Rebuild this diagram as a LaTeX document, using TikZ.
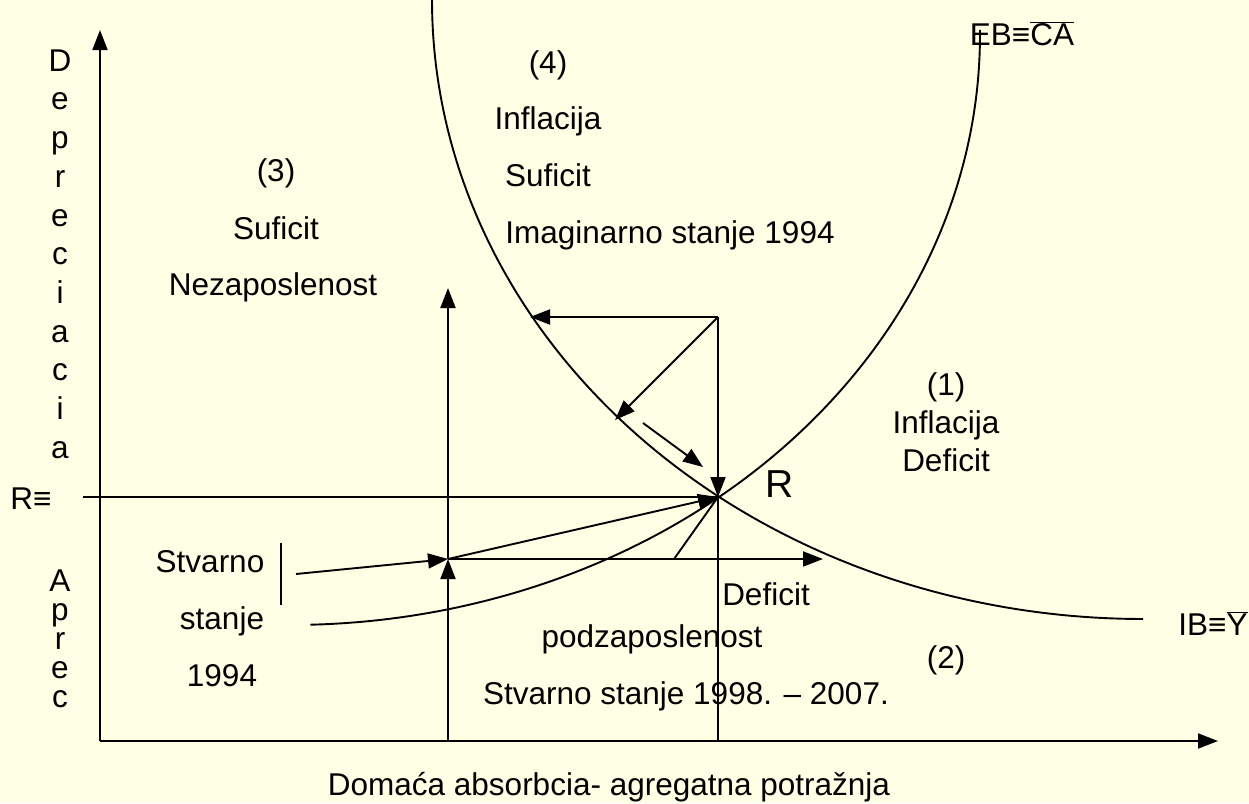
\documentclass[tikz,border=0pt]{standalone}
\usepackage{fontspec}
\setmainfont{Liberation Sans}
\usetikzlibrary{arrows.meta}
\definecolor{bg}{HTML}{FFFFE6}
\newcommand\ovl[1]{\ensuremath{\overline{\hbox{#1}}}}
\begin{document}
\begin{tikzpicture}[x=1pt,y=-1pt,
  line/.style={line width=1.9pt, line join=miter},
  arr/.style={line, -{Triangle[length=20pt,width=15pt]}},
  lbl/.style={font=\fontsize{31.5}{36}\selectfont, text height=22.5pt, text depth=0pt, inner sep=0pt},
  bigl/.style={font=\fontsize{39}{46}\selectfont, text height=27.9pt, text depth=0pt, inner sep=0pt}]
\fill[bg] (0,0) rectangle (1249,803);
\useasboundingbox (0,0) rectangle (1249,803);
% coordinates
\coordinate (O) at (100,741);
\coordinate (Yt) at (100,30);
\coordinate (Xt) at (1218,741);
\coordinate (R) at (718,497);
\coordinate (Rl) at (83,497);
\coordinate (Rt) at (718,317);
\coordinate (Rb) at (718,741);
\coordinate (Bt) at (530,317);
\coordinate (Dt) at (615,420);
\coordinate (s1) at (643,423);
\coordinate (s2) at (703,467);
\coordinate (P) at (448,559);
\coordinate (Pb) at (448,741);
\coordinate (Pt) at (448,288);
\coordinate (St) at (296,574);
\coordinate (H) at (823,559);
\coordinate (Q) at (674,559);
\coordinate (bar1) at (281,543);
\coordinate (bar2) at (281,605);
% curves
\draw[line] plot[domain=180:90, samples=90, smooth] ({1143+711*cos(\x)}, {619*sin(\x)});
\draw[line] plot[domain=88.3:-0.5, samples=90, smooth] ({290+690*cos(\x)}, {35+590*sin(\x)});
% axes
\draw[arr] (O) -- (Yt);
\draw[arr] (O) -- (Xt);
% lines
\draw[line] (Rl) -- (R);
\draw[line] (R) -- (Rb);
\draw[arr] (Rt) -- (Bt);
\draw[arr] (Rt) -- (R);
\draw[arr] (Rt) -- (Dt);
\draw[arr] (s1) -- (s2);
\draw[arr] (Pb) -- (P);
\draw[arr] (P) -- (Pt);
\draw[arr] (St) -- (P);
\draw[arr] (P) -- (R);
\draw[arr] (P) -- (H);
\draw[line] (Q) -- (R);
\draw[line] (bar1) -- (bar2);
% labels
\node[lbl] (n4) at (548,62) {(4)};
\node[lbl] (i4) at (548,118) {Inflacija};
\node[lbl] (s4) at (548,175) {Suficit};
\node[lbl] (im4) at (670,232) {Imaginarno stanje 1994};
\node[lbl] (n3) at (276,170) {(3)};
\node[lbl] (s3) at (276,228) {Suficit};
\node[lbl] (z3) at (273,284) {Nezaposlenost};
\node[lbl] (n1) at (946,384) {(1)};
\node[lbl] (i1) at (946,422) {Inflacija};
\node[lbl] (d1) at (946,460) {Deficit};
\node[bigl] (Rlab) at (780,484) {R};
\node[lbl] (EB) at (1022,34) {EB≡\ovl{CA}};
\node[lbl] (IB) at (1213,624) {IB≡\ovl{Y}};
\node[lbl] (Req) at (31,498) {R≡};
\node[lbl] (sv1) at (210,561) {Stvarno};
\node[lbl] (sv2) at (222,618) {stanje};
\node[lbl] (sv3) at (222,675) {1994};
\node[lbl] (d2) at (766,594) {Deficit};
\node[lbl] (p2) at (652,636) {podzaposlenost};
\node[lbl] (st2) at (686,693) {Stvarno stanje 1998. – 2007.};
\node[lbl] (n2) at (946,657) {(2)};
\node[lbl] (xl) at (609,784) {Domaća absorbcia- agregatna potražnja};
\foreach \l [count=\i from 0] in {D,e,p,r,e,c,i,a,c,i,a}
  \node[lbl] (dep\i) at (60,{60+38.7*\i}) {\l};
\foreach \l [count=\i from 0] in {A,p,r,e,c}
  \node[lbl] (apr\i) at (60,{580+29*\i}) {\l};
\end{tikzpicture}
\end{document}
